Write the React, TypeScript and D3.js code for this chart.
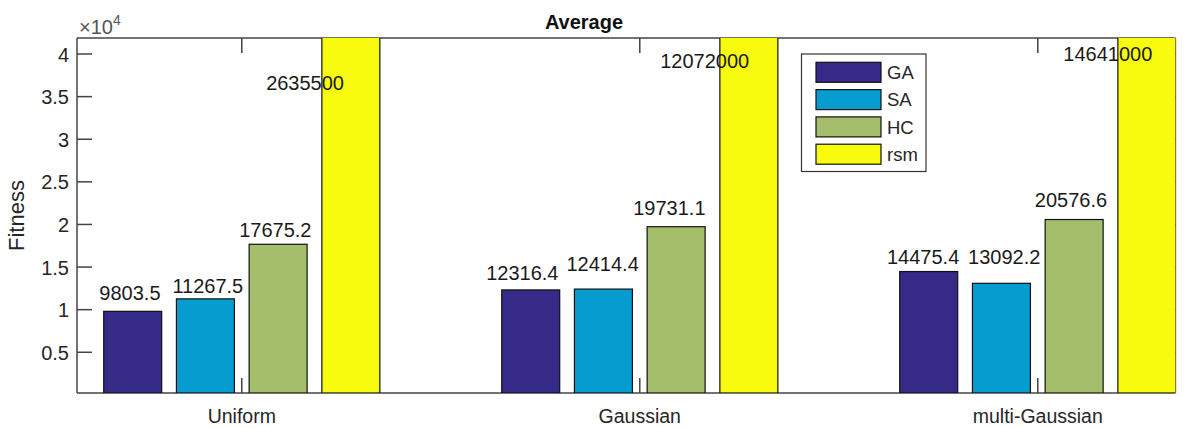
import React from 'react';
import * as d3 from 'd3';

const categories = ['Uniform', 'Gaussian', 'multi-Gaussian'];
const seriesNames = ['GA', 'SA', 'HC', 'rsm'];
const GA = [9803.5, 12316.4, 14475.4];
const SA = [11267.5, 12414.4, 13092.2];
const HC = [17675.2, 19731.1, 20576.6];
const RSM = [2635500, 12072000, 14641000];
const seriesValues = [GA, SA, HC, RSM];

// text anchor heights (data units) where the value labels were placed
const GA_labelY = [12014, 14303, 16216];
const SA_labelY = [12801, 15359, 16216];
const HC_labelY = [19314, 21966, 22870];
const RSM_labelY = [36600, 39182, 40063];
const labelYs = [GA_labelY, SA_labelY, HC_labelY, RSM_labelY];
// horizontal shift of labels (x data units)
const GA_labelDX = [-0.007, -0.021, -0.014];
const SA_labelDX = [0.006, -0.002, 0.007];
const HC_labelDX = [-0.007, -0.017, -0.008];
const RSM_labelDX = [-0.115, -0.111, -0.098];
const labelDXs = [GA_labelDX, SA_labelDX, HC_labelDX, RSM_labelDX];

const yTicks = [5000, 10000, 15000, 20000, 25000, 30000, 35000, 40000];
const yTickLabels = ['0.5', '1', '1.5', '2', '2.5', '3', '3.5', '4'];

const colors = ['#352A87', '#079CCF', '#A5BE6B', '#F9FB0E'];

const W = 1190;
const H = 428;
const L = 77, R = 1175.5, T = 38, B = 393;
const font = 'Arial, "Liberation Sans", Helvetica, sans-serif';
const axisColor = '#444';
const textColor = '#262626';

export default function App() {
  const x = d3.scaleLinear().domain([0.586, 3.346]).range([L, R]);
  const y = d3.scaleLinear().domain([220, 41880]).range([B, T]);
  const step = 0.1827;
  const bw = 0.1457;
  const tickLen = 15;

  const barCenter = (g: number, s: number) => g + 1 + (s - 1.5) * step;

  return (
    <svg width={W} height={H} style={{ position: 'absolute', left: 0, top: 0, background: '#fff' }} fontFamily={font}>
      <rect x={0} y={0} width={W} height={H} fill="#fff" />
      <defs>
        <clipPath id="ax">
          <rect x={L} y={T} width={R - L} height={B - T} />
        </clipPath>
      </defs>
      {/* axes box and ticks (drawn below data) */}
      <g stroke={axisColor} strokeWidth={1.5} fill="none">
        <line x1={L} y1={T} x2={R} y2={T} />
        <line x1={L} y1={B} x2={R} y2={B} />
        <line x1={L} y1={T} x2={L} y2={B} />
        <line x1={R} y1={T} x2={R} y2={B} stroke="#999" />
        {yTicks.map((t) => (
          <g key={'yt' + t}>
            <line x1={L} x2={L + tickLen} y1={y(t)} y2={y(t)} />
            <line x1={R} x2={R - tickLen} y1={y(t)} y2={y(t)} />
          </g>
        ))}
        {categories.map((c, i) => (
          <g key={'xt' + c}>
            <line x1={x(i + 1)} x2={x(i + 1)} y1={T} y2={T + tickLen} />
            <line x1={x(i + 1)} x2={x(i + 1)} y1={B} y2={B - tickLen} />
          </g>
        ))}
      </g>
      {/* bars */}
      <g clipPath="url(#ax)">
        {seriesValues.map((vals, s) =>
          vals.map((v, g) => {
            const cx = barCenter(g, s);
            const x0 = x(cx - bw / 2);
            const x1 = x(cx + bw / 2);
            const yTop = Math.max(y(v), T - 5);
            return (
              <rect
                key={s + '-' + g}
                x={x0}
                y={yTop}
                width={x1 - x0}
                height={y(220) - yTop}
                fill={colors[s]}
                stroke="#111"
                strokeWidth={1.2}
              />
            );
          })
        )}
      </g>
      {/* value labels */}
      <g fontSize={20} fill="#1a1a1a" textAnchor="middle">
        {seriesValues.map((vals, s) =>
          vals.map((v, g) => (
            <text
              key={'l' + s + '-' + g}
              x={x(barCenter(g, s) + labelDXs[s][g])}
              y={y(labelYs[s][g])}
              dy="0.36em"
            >
              {String(v)}
            </text>
          ))
        )}
      </g>
      {/* y tick labels */}
      <g fontSize={20} fill={textColor} textAnchor="end">
        {yTicks.map((t, i) => (
          <text key={'yl' + t} x={69} y={y(t)} dy="0.38em">
            {yTickLabels[i]}
          </text>
        ))}
      </g>
      {/* x tick labels */}
      <g fontSize={19.5} fill={textColor} textAnchor="middle">
        {categories.map((c, i) => (
          <text key={'xl' + c} x={x(i + 1)} y={423}>
            {c}
          </text>
        ))}
      </g>
      {/* exponent */}
      <text x={79} y={34} fontSize={20} fill="#555">
        ×10
        <tspan fontSize={14} dy={-9}>4</tspan>
      </text>
      {/* title */}
      <text x={584} y={28.5} fontSize={20} fontWeight="bold" fill="#111" textAnchor="middle">
        Average
      </text>
      {/* y label */}
      <text
        transform={`translate(24,${(T + B) / 2}) rotate(-90)`}
        fontSize={22}
        fill={textColor}
        textAnchor="middle"
      >
        Fitness
      </text>
      {/* legend */}
      <g>
        <rect x={801.5} y={54} width={124.5} height={117.5} fill="#fff" stroke="#333" strokeWidth={1.2} />
        {seriesNames.map((n, i) => (
          <g key={'lg' + n} transform={`translate(816,${62.3 + i * 27.3})`}>
            <rect x={0} y={0} width={65} height={20} fill={colors[i]} stroke="#111" strokeWidth={1.2} />
            <text x={71} y={10} dy="0.36em" fontSize={18.5} fill={textColor}>
              {n}
            </text>
          </g>
        ))}
      </g>
    </svg>
  );
}
